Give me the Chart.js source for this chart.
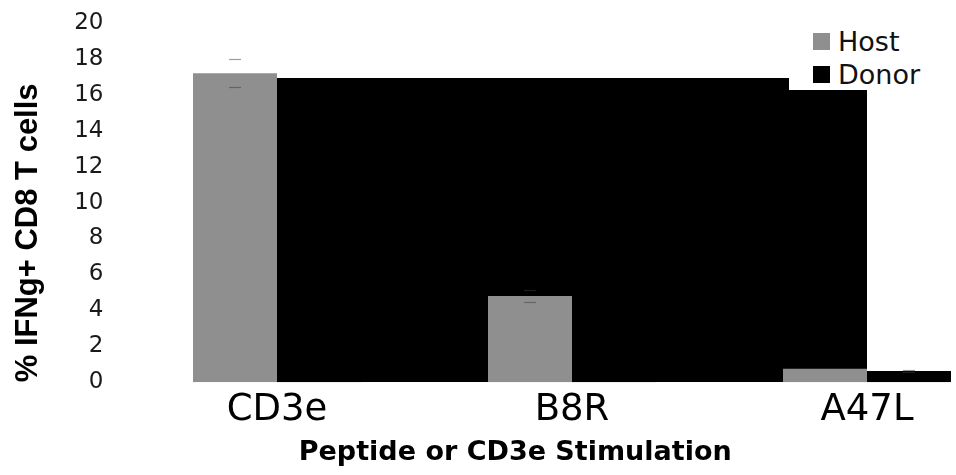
<!DOCTYPE html>
<html>
<head>
<meta charset="utf-8">
<title>IFNg+ CD8 T cells</title>
<script src="https://cdn.jsdelivr.net/npm/chart.js@4/dist/chart.umd.min.js"></script>
<style>
  html, body { margin: 0; padding: 0; background: #fff; overflow: hidden; }
  #wrap { position: relative; width: 1030px; height: 475px; overflow: hidden; }
  #ifngChart { position: absolute; left: 0; top: -17px; }
  #legend {
    position: absolute; left: 789px; top: 22px; width: 170px; height: 68px;
    background: #fff; font-family: 'DejaVu Sans', sans-serif; font-size: 27px; color: #111;
  }
  #legend .item { position: absolute; left: 24px; height: 30px; line-height: 30px; }
  #legend .swatch { position: absolute; left: 0; top: 6px; width: 17px; height: 17px; }
  #legend .label { position: absolute; left: 25px; top: 0; white-space: nowrap; }
</style>
</head>
<body>
<div id="wrap">
  <canvas id="ifngChart" width="1030" height="494"></canvas>
  <div id="legend"></div>
</div>
<script>
// stimulation conditions on the x axis
const categories = ['CD3e', 'B8R', 'A47L'];

// % IFNg+ CD8 T cells, mean and error
const hostValues = [17.2, 4.8, 0.76];
const hostErrors = [0.77, 0.31, 0];
const donorValues = [16.93, 16.93, 0.63];
const donorErrors = [0, 0, 0.07];
// dark block behind the groups (donor series)
const donorShade = [16.93, 16.93, 16.93];

const yMax = 20;
const yStep = 2;

const seriesNames = ['Host', 'Donor'];
const seriesColors = ['#8f8f8f', '#000000'];

// short horizontal caps at mean +/- error
const errorCaps = {
  id: 'errorCaps',
  afterDatasetsDraw(chart) {
    const ctx = chart.ctx;
    const y = chart.scales.y;
    const sets = [[0, hostValues, hostErrors], [1, donorValues, donorErrors]];
    ctx.save();
    ctx.strokeStyle = 'rgba(60,60,60,0.5)';
    ctx.lineWidth = 1.2;
    sets.forEach(([idx, vals, errs]) => {
      const meta = chart.getDatasetMeta(idx);
      meta.data.forEach((bar, i) => {
        if (!errs[i]) return;
        [vals[i] + errs[i], vals[i] - errs[i]].forEach(v => {
          const py = Math.round(y.getPixelForValue(v)) + 0.5;
          ctx.beginPath();
          ctx.moveTo(bar.x - 6, py);
          ctx.lineTo(bar.x + 6, py);
          ctx.stroke();
        });
      });
    });
    ctx.restore();
  }
};

const chart = new Chart(document.getElementById('ifngChart'), {
  type: 'bar',
  data: {
    labels: categories,
    datasets: [
      {
        label: seriesNames[0],
        data: hostValues,
        backgroundColor: seriesColors[0],
        borderWidth: 0,
        order: 0
      },
      {
        label: seriesNames[1],
        data: donorValues,
        backgroundColor: seriesColors[1],
        borderWidth: 0,
        order: 0
      },
      {
        type: 'line',
        label: 'shade',
        data: donorShade,
        borderWidth: 0,
        borderColor: 'rgba(0,0,0,0)',
        backgroundColor: '#000000',
        fill: 'origin',
        pointRadius: 0,
        tension: 0,
        order: 1
      }
    ]
  },
  options: {
    responsive: false,
    animation: false,
    events: [],
    layout: { padding: { top: 2, right: 15.5, left: 16, bottom: 0 } },
    datasets: {
      bar: { categoryPercentage: 0.5695, barPercentage: 1 }
    },
    plugins: {
      legend: { display: false },
      tooltip: { enabled: false },
      title: {
        display: true,
        position: 'bottom',
        text: 'Peptide or CD3e Stimulation',
        color: '#000',
        padding: { top: 0, bottom: 8 },
        font: { family: "'DejaVu Sans', sans-serif", size: 27, weight: 'bold' }
      }
    },
    scales: {
      x: {
        offset: true,
        grid: { display: false, drawTicks: false },
        border: { display: false },
        ticks: {
          color: '#000',
          padding: 6,
          maxRotation: 0,
          font: { family: "'DejaVu Sans', sans-serif", size: 37 }
        },
        afterFit(scale) { scale.height = 54.3; }
      },
      y: {
        min: 0,
        max: yMax,
        grid: { display: false, drawTicks: false },
        border: { display: false },
        ticks: {
          stepSize: yStep,
          color: '#1a1a1a',
          padding: 26,
          font: { family: "'DejaVu Sans', sans-serif", size: 23 }
        },
        title: {
          display: true,
          align: 'start',
          text: '% IFNg+ CD8 T cells',
          color: '#000',
          padding: { top: -3, bottom: 0 },
          font: { family: "'Liberation Sans', Arial, sans-serif", size: 31, weight: 'bold', lineHeight: 1 }
        },
        afterFit(scale) { scale.width = 113.5; }
      }
    }
  },
  plugins: [errorCaps]
});

// legend box in the upper right of the plot
const legendEl = document.getElementById('legend');
seriesNames.forEach((name, i) => {
  const item = document.createElement('div');
  item.className = 'item';
  item.style.top = (i * 33 + 5) + 'px';
  item.innerHTML = `<span class="swatch" style="background:${seriesColors[i]}"></span><span class="label">${name}</span>`;
  legendEl.appendChild(item);
});
</script>
</body>
</html>
